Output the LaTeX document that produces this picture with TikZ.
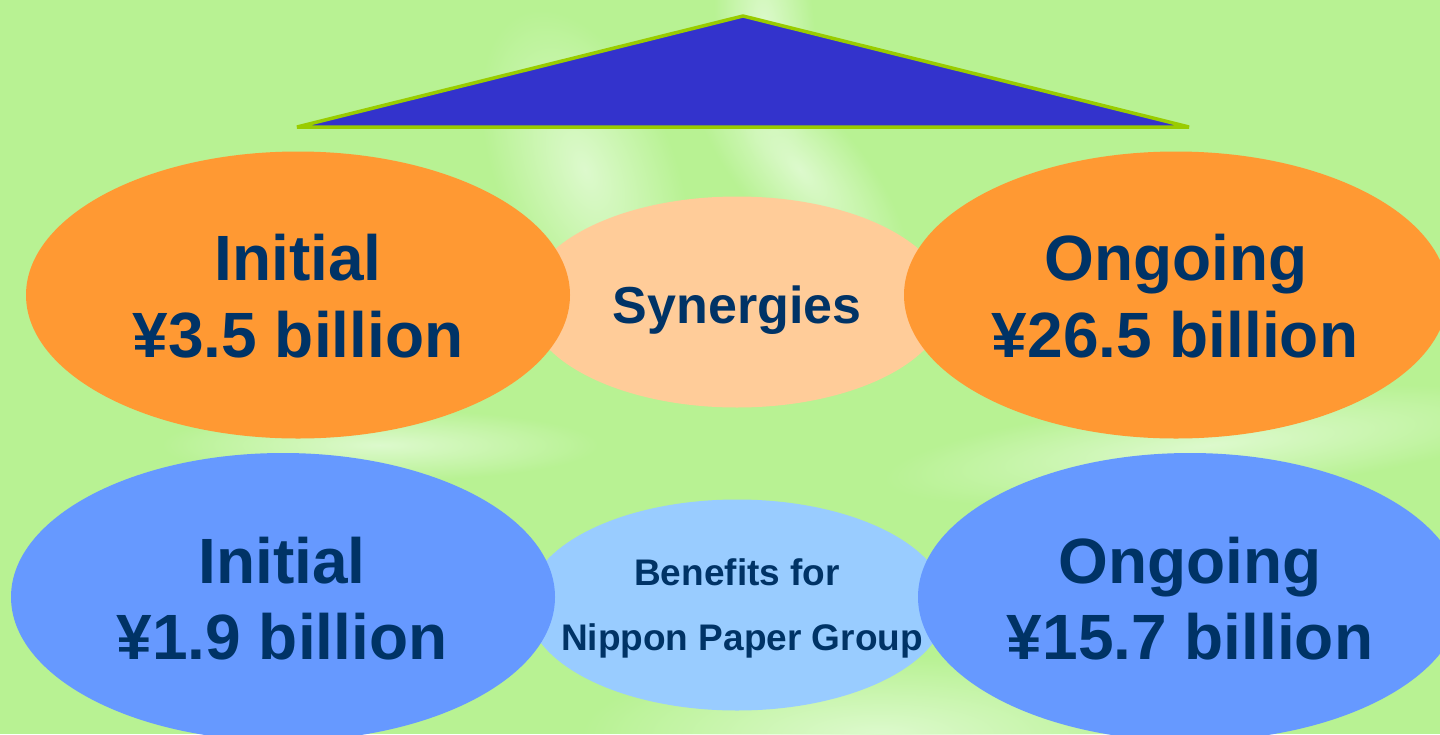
\documentclass[tikz,border=0pt]{standalone}
\usepackage{fontspec}
\setmainfont{Liberation Sans}
\usetikzlibrary{shapes.geometric,fadings}

\definecolor{bggreen}{HTML}{B8F293}
\definecolor{glow}{HTML}{DDFACD}
\definecolor{roofblue}{HTML}{3333CC}
\definecolor{roofedge}{HTML}{99CC00}
\definecolor{orangebig}{HTML}{FF9933}
\definecolor{orangesoft}{HTML}{FFCC99}
\definecolor{bluebig}{HTML}{6699FF}
\definecolor{bluesoft}{HTML}{99CCFF}
\definecolor{navy}{HTML}{003366}

% soft radial spot used for the light streaks of the backdrop
\tikzfading[name=softblob, inner color=transparent!0, outer color=transparent!100]

\begin{document}
\begin{tikzpicture}[x=1pt,y=-1pt,
  bigblob/.style={ellipse, minimum width=544pt, minimum height=287pt, inner sep=0pt, outer sep=0pt},
  midblob/.style={ellipse, minimum width=420pt, minimum height=211pt, inner sep=0pt, outer sep=0pt},
  bigtext/.style={font=\fontsize{64}{64}\selectfont\bfseries, text=navy, anchor=base, inner sep=0pt},
  midtext/.style={font=\fontsize{52}{52}\selectfont\bfseries, text=navy, anchor=base, inner sep=0pt},
  smalltext/.style={font=\fontsize{37}{37}\selectfont\bfseries, text=navy, anchor=base, inner sep=0pt},
  glowstreak/.style={fill=glow, path fading=softblob}]

% backdrop
\fill[bggreen] (0,0) rectangle (1440,734);
\useasboundingbox (0,0) rectangle (1440,734);

% light streaks
\begin{scope}[transform canvas={rotate around={-85:(765,30)}}]
  \fill[glowstreak] (765,30) ellipse [x radius=140, y radius=50];
\end{scope}
\begin{scope}[transform canvas={rotate around={-68:(585,170)}}]
  \fill[glowstreak] (585,170) ellipse [x radius=170, y radius=90];
\end{scope}
\begin{scope}[transform canvas={rotate around={-49:(800,170)}}]
  \fill[glowstreak] (800,170) ellipse [x radius=150, y radius=60];
\end{scope}
\begin{scope}[transform canvas={rotate around={6:(1210,445)}}]
  \fill[glowstreak] (1210,445) ellipse [x radius=330, y radius=50];
\end{scope}
\fill[glowstreak] (380,445) ellipse [x radius=220, y radius=36];
\fill[glowstreak] (880,734) ellipse [x radius=300, y radius=80];

% roof
\draw[line width=3.5pt, draw=roofedge, fill=roofblue, line join=bevel]
  (743,16) -- (1189,127) -- (297,127) -- cycle;

% synergies row
\node[midblob, fill=orangesoft] (synbg) at (737,302) {};
\node[bigblob, fill=orangebig] (initA) at (298,295) {};
\node[bigblob, fill=orangebig] (ongA) at (1176,295) {};

% benefits row
\node[midblob, fill=bluesoft] (benbg) at (737,605) {};
\node[bigblob, fill=bluebig, minimum height=288pt] (initB) at (283,597) {};
\node[bigblob, fill=bluebig, minimum height=288pt] (ongB) at (1190,597) {};

% labels
\node[bigtext] (initAa) at (298,280) {Initial};
\node[bigtext] (initAb) at (298,357) {¥3.5 billion};
\node[midtext] (syn) at (737,323) {Synergies};
\node[bigtext] (ongAa) at (1176,280) {Ongoing};
\node[bigtext] (ongAb) at (1175,357) {¥26.5 billion};

\node[bigtext] (initBa) at (282,583) {Initial};
\node[bigtext] (initBb) at (282,659) {¥1.9 billion};
\node[smalltext] (bena) at (737,585) {Benefits for};
\node[smalltext] (benb) at (742,650) {Nippon Paper Group};
\node[bigtext] (ongBa) at (1190,583) {Ongoing};
\node[bigtext] (ongBb) at (1190,659) {¥15.7 billion};
\end{tikzpicture}
\end{document}
